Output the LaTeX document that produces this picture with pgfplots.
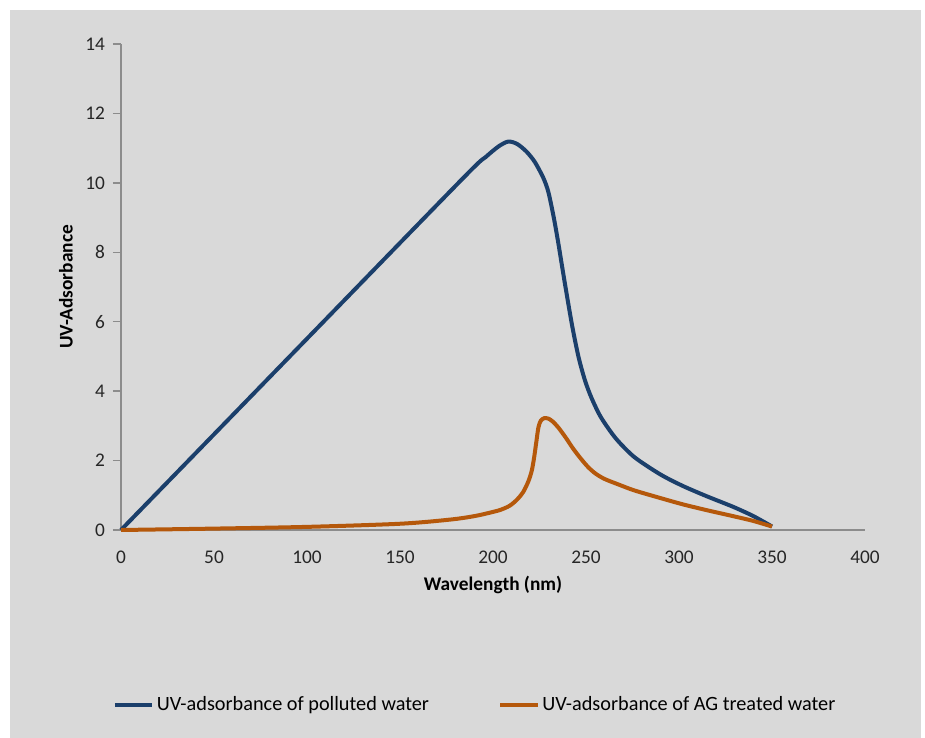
\documentclass[border=0pt]{standalone}
\usepackage{fontspec}
\setmainfont{Carlito}
\usepackage{pgfplots}
\pgfplotsset{compat=1.18}
\definecolor{bgc}{HTML}{D9D9D9}
\definecolor{axgray}{HTML}{8C8C8C}
\definecolor{cblue}{HTML}{1B3F6B}
\definecolor{corange}{HTML}{B5580B}
\begin{document}
\begin{tikzpicture}
\fill[white] (0pt,0pt) rectangle (693.75pt,553.5pt);
\fill[bgc] (7.5pt,0pt) rectangle (690.75pt,546pt);
\begin{axis}[
  at={(90.75pt,156pt)}, anchor=south west,
  scale only axis, width=558pt, height=364.5pt,
  xmin=0, xmax=400, ymin=0, ymax=14,
  xtick={0,50,...,400}, ytick={0,2,...,14},
  axis x line*=bottom, axis y line*=left,
  x axis line style={-, draw=axgray, line width=1.1pt},
  y axis line style={-, draw=axgray, line width=1.1pt},
  xtick style={draw=none},
  ytick style={draw=axgray, line width=1.1pt},
  tick align=outside, major tick length=6pt,
  /pgf/number format/assume math mode=true,
  tick label style={font=\fontsize{14.5}{17}\selectfont, text=black!85},
  yticklabel style={xshift=-2.5pt},
  xticklabel style={yshift=-6pt},
  xlabel={Wavelength (nm)}, ylabel={UV-Adsorbance},
  xlabel style={at={(axis description cs:0.5,-0.1132)}, anchor=center, font=\fontsize{14.5}{17}\selectfont\bfseries},
  ylabel style={at={(axis description cs:-0.0739,0.5)}, anchor=center, font=\fontsize{14.5}{17}\selectfont\bfseries},
  legend style={at={(axis description cs:0.4765,-0.36)}, anchor=center, draw=none, fill=none,
    font=\fontsize{15.2}{17}\selectfont, legend columns=2,
    /tikz/every even column/.append style={column sep=50pt}},
  legend image code/.code={\draw[#1, line width=3pt] (0pt,0pt) -- (28pt,0pt);},
  clip=false,
]
\addplot[cblue, line width=3pt, smooth, tension=0.45] coordinates {
(0,0) (92,5.07) (184,10.14) (196,10.74) (203,11.05) (208.2,11.19) (213,11.12)
(218,10.9) (222.5,10.6) (227,10.15) (229.7,9.75) (232.5,9.05) (235,8.3) (238.5,7.15) (242.5,5.9) (246,4.98)
(249.5,4.3) (253,3.8) (258,3.25) (266,2.64) (276,2.1) (290,1.6) (302,1.27) (315,0.97) (329,0.67) (340,0.4) (350,0.1)
};
\addlegendentry{UV-adsorbance of polluted water}
\addplot[corange, line width=3pt, smooth, tension=0.5] coordinates {
(0,0) (50,0.04) (100,0.09) (150,0.18) (177,0.3) (190,0.4) (198.4,0.5) (204,0.58) (209,0.7) (213,0.88) (216.3,1.1)
(219,1.4) (220.8,1.7) (222,2.05) (223.2,2.5) (224.4,2.95) (225.7,3.15) (227.5,3.22) (229.7,3.21) (232,3.13)
(235,2.96) (239,2.67) (243,2.35) (247,2.07) (251,1.82) (255,1.63) (260,1.47) (268,1.3) (276,1.14) (290,0.92)
(302,0.74) (315,0.57) (329,0.4) (340,0.26) (350,0.1)
};
\addlegendentry{UV-adsorbance of AG treated water}
\end{axis}
\end{tikzpicture}
\end{document}
